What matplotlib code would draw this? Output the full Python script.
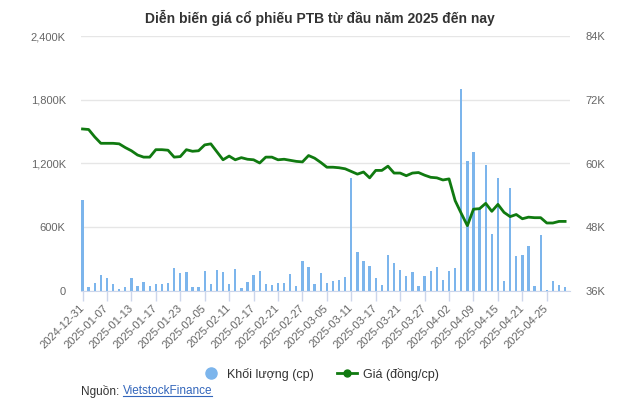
import matplotlib
matplotlib.use('Agg')
import matplotlib.pyplot as plt
import pandas as pd
from matplotlib.lines import Line2D
from matplotlib import font_manager

# fonts: narrow face for title if we have it
names = {f.name for f in font_manager.fontManager.ttflist}
narrow = 'Liberation Sans Narrow' if 'Liberation Sans Narrow' in names else 'Liberation Sans'
plt.rcParams['font.family'] = ['Liberation Sans', 'DejaVu Sans']

# trading days (HOSE closed on these)
holidays = ['2025-01-01', '2025-01-27', '2025-01-28', '2025-01-29', '2025-01-30',
            '2025-01-31', '2025-04-07', '2025-04-30', '2025-05-01', '2025-05-02']
days = [d for d in pd.bdate_range('2024-12-31', '2025-05-05') if d.strftime('%Y-%m-%d') not in holidays]
day_labels = [d.strftime('%Y-%m-%d') for d in days]

# volume, thousand shares
volume = [856, 35, 78, 150, 125, 66, 22, 38, 125, 50,
          88, 50, 69, 69, 78, 216, 169, 179, 35, 38,
          191, 66, 201, 179, 69, 210, 28, 85, 150, 188,
          66, 56, 78, 78, 163, 50, 282, 226, 69, 165,
          78, 96, 103, 133, 1060, 367, 282, 235, 123, 60,
          340, 265, 200, 142, 179, 47, 142, 190, 226, 103,
          191, 215, 1900, 1224, 1308, 770, 1186, 536, 1060, 95,
          970, 330, 342, 427, 47, 527, 9, 94, 56, 38]

# close price, thousand VND
price = [66.5, 66.4, 65.0, 63.8, 63.8, 63.8, 63.7, 63.0, 62.4, 61.6,
         61.2, 61.2, 62.6, 62.6, 62.5, 61.2, 61.3, 62.6, 62.3, 62.4,
         63.5, 63.7, 62.2, 60.7, 61.4, 60.7, 61.1, 60.8, 60.7, 60.1,
         61.2, 61.2, 60.7, 60.8, 60.6, 60.4, 60.3, 61.5, 61.0, 60.2,
         59.3, 59.3, 59.2, 59.0, 58.5, 58.0, 58.4, 57.3, 58.7, 58.7,
         59.5, 58.2, 58.2, 57.7, 58.2, 58.3, 57.8, 57.4, 57.3, 56.9,
         57.1, 53.0, 50.6, 48.3, 51.4, 51.5, 52.5, 51.0, 52.3, 50.8,
         50.0, 50.4, 49.6, 49.9, 49.8, 49.8, 48.8, 48.8, 49.1, 49.1]

vol_ticks = [0, 600, 1200, 1800, 2400]
vol_labels = ['0', '600K', '1,200K', '1,800K', '2,400K']
price_ticks = [36, 48, 60, 72, 84]
price_labels = ['36K', '48K', '60K', '72K', '84K']

blue = '#7cb5ec'
green = '#107a10'

fig = plt.figure(figsize=(6.41, 4.11), dpi=100)
ax = fig.add_axes([81 / 641, 1 - 291 / 411, 489 / 641, 255 / 411])
x = list(range(len(volume)))
ax.bar(x, volume, width=0.38, color=blue, zorder=2)
ax.set_ylim(0, 2400)
ax.set_xlim(-0.25, 79.8)
ax.set_yticks(vol_ticks)
ax.set_yticklabels(vol_labels)
ax.set_xticks(x[::4])
ax.set_xticklabels(day_labels[::4], rotation=45, ha='right', va='center', rotation_mode='anchor')
ax.grid(axis='y', color='#e6e6e6', linewidth=1)
ax.set_axisbelow(True)
for s in ['top', 'right', 'left']:
    ax.spines[s].set_visible(False)
ax.spines['bottom'].set_color('#ccd6eb')
ax.tick_params(axis='x', length=7, width=1, color='#ccd6eb', labelcolor='#666666', labelsize=8, pad=4)
ax.tick_params(axis='y', length=0, labelcolor='#666666', labelsize=8, pad=11)

ax2 = ax.twinx()
ax2.plot(x, price, color=green, linewidth=2, zorder=3)
ax2.set_ylim(36, 84)
ax2.set_yticks(price_ticks)
ax2.set_yticklabels(price_labels)
for s in ax2.spines.values():
    s.set_visible(False)
ax2.tick_params(axis='y', length=0, labelcolor='#666666', labelsize=8, pad=11)

fig.text(320 / 641, 1 - 18 / 411, 'Diễn biến giá cổ phiếu PTB từ đầu năm 2025 đến nay',
         ha='center', va='center', fontsize=10, fontweight='bold', family=narrow, color='#333333')

handles = [Line2D([], [], marker='o', linestyle='none', color=blue, markersize=8),
           Line2D([], [], marker='o', color=green, linewidth=2, markersize=5)]
fig.legend(handles, ['Khối lượng (cp)', 'Giá (đồng/cp)'], loc='center',
           bbox_to_anchor=(320 / 641, 1 - 374 / 411), ncol=2, frameon=False,
           fontsize=9, handlelength=1.6, handletextpad=0.5, columnspacing=1.8,
           labelcolor='#333333')

src = fig.text(81 / 641, 1 - 391 / 411, 'Nguồn: ', ha='left', va='center', fontsize=8.5, color='#333333')
fig.canvas.draw()
bb = src.get_window_extent()
link = fig.text(bb.x1 / fig.bbox.width, 1 - 391 / 411, 'VietstockFinance', ha='left', va='center',
                fontsize=8.5, color='#3366bb')
fig.canvas.draw()
lb = link.get_window_extent()
fig.add_artist(Line2D([lb.x0, lb.x1], [lb.y0 + 1, lb.y0 + 1], transform=None, color='#3366bb', linewidth=0.8))

fig.savefig('out.png', dpi=100)
